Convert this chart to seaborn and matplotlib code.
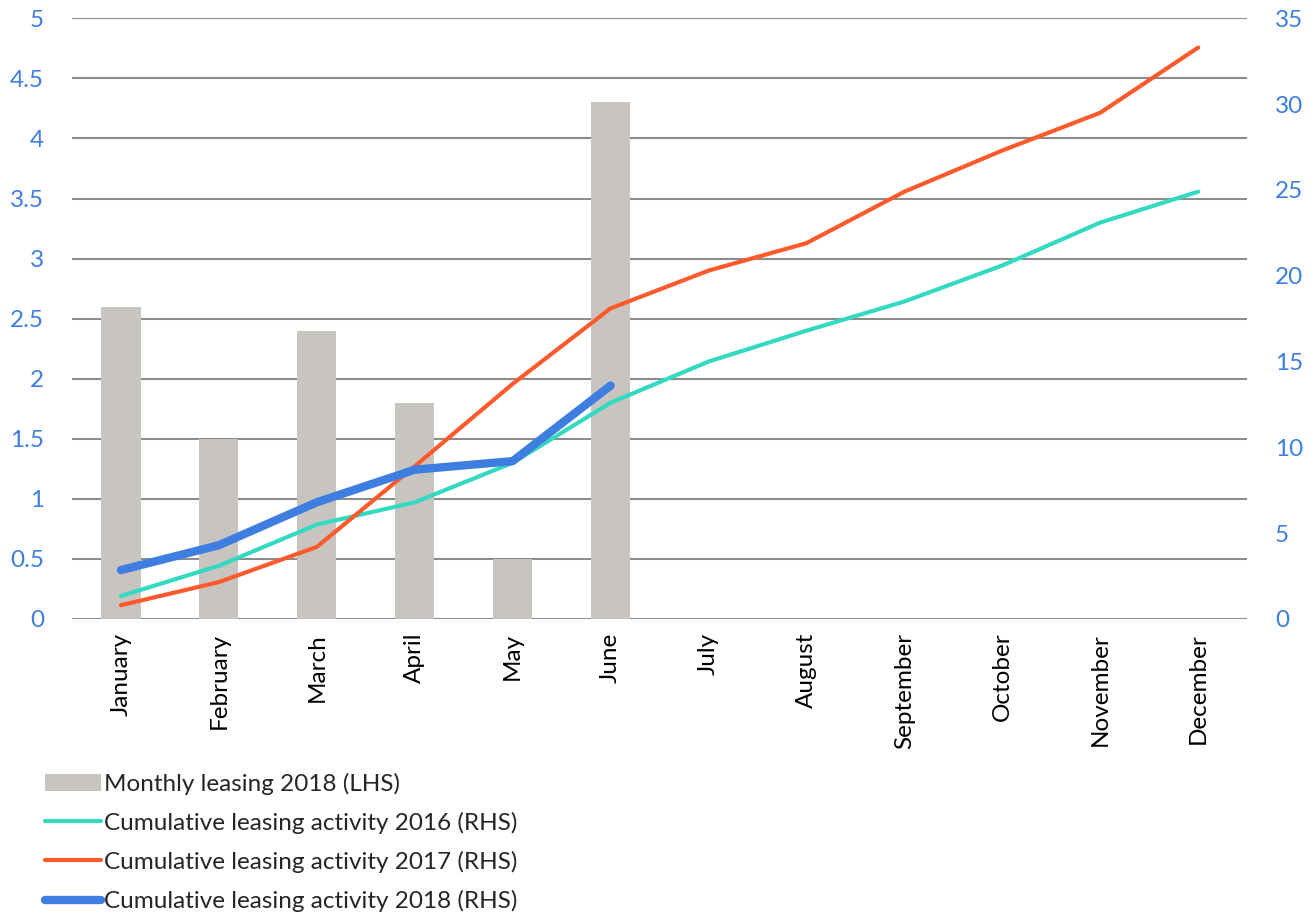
import numpy as np
import pandas as pd
import matplotlib
matplotlib.use("Agg")
import matplotlib.pyplot as plt
from matplotlib.patches import Patch
from matplotlib.lines import Line2D
import seaborn as sns

months = ["January", "February", "March", "April", "May", "June",
          "July", "August", "September", "October", "November", "December"]
monthly_2018 = [2.6, 1.5, 2.4, 1.8, 0.5, 4.3]
cum_2016 = [1.34, 3.1, 5.5, 6.8, 9.1, 12.6, 15.0, 16.8, 18.5, 20.6, 23.1, 24.9]
cum_2017 = [0.8, 2.15, 4.2, 8.9, 13.7, 18.1, 20.3, 21.9, 24.9, 27.3, 29.5, 33.3]
cum_2018 = [2.85, 4.3, 6.8, 8.7, 9.2, 13.6]
left_ticks = [0, 0.5, 1, 1.5, 2, 2.5, 3, 3.5, 4, 4.5, 5]
right_ticks = [0, 5, 10, 15, 20, 25, 30, 35]
labels = ["Monthly leasing 2018 (LHS)",
          "Cumulative leasing activity 2016 (RHS)",
          "Cumulative leasing activity 2017 (RHS)",
          "Cumulative leasing activity 2018 (RHS)"]

c_bar = "#c8c5c0"
c16 = "#33d9c1"
c17 = "#ff5a2c"
c18 = "#3d7ee0"
c_tick = "#3d7ee0"

sns.set_theme(style="white")
plt.rcParams["font.family"] = ["Lato", "DejaVu Sans"]

fig = plt.figure(figsize=(13.16, 9.17), dpi=100)
ax = fig.add_axes([0.0547, 0.325, 0.893, 0.655])

pos = np.arange(len(months))
bar_df = pd.DataFrame({"x": pos[:len(monthly_2018)], "v": monthly_2018})
ax.bar(bar_df["x"], bar_df["v"], width=0.4, color=c_bar, edgecolor="none",
       linewidth=0, zorder=2)

ax.set_xlim(-0.5, len(months) - 0.5)
ax.set_ylim(0, 5)
ax.set_yticks(left_ticks)
ax.set_yticklabels([f"{t:g}" for t in left_ticks])
ax.set_xticks(pos)
ax.set_xticklabels(months, rotation=90)
ax.yaxis.grid(True, color="#8c8c8c", linewidth=1.5, zorder=0)
ax.set_axisbelow(True)
for s in ax.spines.values():
    s.set_visible(False)
ax.tick_params(axis="y", colors=c_tick, labelsize=17.5, length=0, pad=20)
ax.tick_params(axis="x", colors="black", labelsize=17.5, length=0, pad=10)

ax2 = ax.twinx()
df16 = pd.DataFrame({"x": pos, "v": cum_2016})
df17 = pd.DataFrame({"x": pos, "v": cum_2017})
df18 = pd.DataFrame({"x": pos[:len(cum_2018)], "v": cum_2018})
sns.lineplot(data=df16, x="x", y="v", ax=ax2, color=c16, linewidth=3, legend=False)
sns.lineplot(data=df17, x="x", y="v", ax=ax2, color=c17, linewidth=3, legend=False)
sns.lineplot(data=df18, x="x", y="v", ax=ax2, color=c18, linewidth=6,
             solid_capstyle="round", legend=False)
ax2.set_ylim(0, 35)
ax2.set_yticks(right_ticks)
ax2.set_yticklabels([str(t) for t in right_ticks])
ax2.set_xlim(-0.5, len(months) - 0.5)
ax2.set_xlabel("")
ax2.set_ylabel("")
ax.set_xlabel("")
ax.set_ylabel("")
for s in ax2.spines.values():
    s.set_visible(False)
ax2.tick_params(axis="y", colors=c_tick, labelsize=17.5, length=0, pad=20)
ax2.grid(False)

handles = [Patch(facecolor=c_bar, edgecolor="none"),
           Line2D([0], [0], color=c16, lw=3),
           Line2D([0], [0], color=c17, lw=3),
           Line2D([0], [0], color=c18, lw=6, solid_capstyle="round")]
fig.legend(handles, labels, loc="upper left", bbox_to_anchor=(0.027, 0.168),
           frameon=False, fontsize=17.5, handlelength=2.3, handletextpad=0.1,
           labelspacing=0.7, borderaxespad=0)

fig.savefig("out.png", dpi=100)
